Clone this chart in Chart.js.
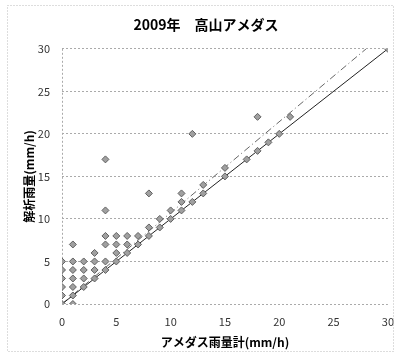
<!DOCTYPE html>
<html>
<head>
<meta charset="utf-8">
<script src="https://cdn.jsdelivr.net/npm/chart.js@4"></script>
<style>
  html, body { margin: 0; padding: 0; background: #fff; }
  #wrap { width: 396px; height: 354px; }
</style>
</head>
<body>
<div id="wrap"><canvas id="chart" width="396" height="354"></canvas></div>
<script>
// アメダス雨量計 (x) と 解析雨量 (y), mm/h
const amedas = [
  0, 0, 0, 0, 0, 0,
  1, 1, 1, 1, 1, 1, 1,
  2, 2, 2, 2,
  3, 3, 3, 3,
  4, 4, 4, 4, 4, 4,
  5, 5, 5, 5,
  6, 6, 6,
  7, 7,
  8, 8, 8,
  9, 9,
  10, 10,
  11, 11, 11,
  12, 12,
  13, 13,
  15, 15,
  17,
  18, 18,
  19, 20, 21, 30
];
const kaiseki = [
  0, 1, 2, 3, 4, 5,
  0, 1, 2, 3, 4, 5, 7,
  2, 3, 4, 5,
  3, 4, 5, 6,
  4, 5, 7, 8, 11, 17,
  5, 6, 7, 8,
  6, 7, 8,
  7, 8,
  8, 9, 13,
  9, 10,
  10, 11,
  11, 12, 13,
  12, 20,
  13, 14,
  15, 16,
  17,
  18, 22,
  19, 20, 22, 30
];

// 1:1 line and the dash-dot line
const lineX = [0, 30];
const lineY = [0, 30];
const dashX = [0, 28];
const dashY = [0, 30];

const xTicks = [0, 5, 10, 15, 20, 25, 30];
const yTicks = [0, 5, 10, 15, 20, 25, 30];

const FONT = "'Noto Sans CJK JP', 'Noto Sans', sans-serif";

function toPoints(xs, ys) {
  return xs.map((x, i) => ({ x: x, y: ys[i] }));
}

// dotted frame around the whole chart (like the Excel chart border)
const frame = {
  id: "frame",
  afterDraw(chart) {
    const ctx = chart.ctx;
    ctx.save();
    ctx.strokeStyle = "#bbb";
    ctx.lineWidth = 1;
    ctx.setLineDash([1, 2]);
    ctx.strokeRect(7.5, 5.5, 386, 346);
    ctx.restore();
  },
};

new Chart(document.getElementById("chart"), {
  type: "scatter",
  data: {
    datasets: [
      {
        label: "obs",
        data: toPoints(amedas, kaiseki),
        pointStyle: "rectRot",
        pointRadius: 3.5,
        backgroundColor: "#a0a0a0",
        borderColor: "#606060",
        borderWidth: 1,
        order: 1,
      },
      {
        label: "1:1",
        type: "line",
        data: toPoints(lineX, lineY),
        borderColor: "#222",
        borderWidth: 1,
        pointRadius: 0,
        order: 2,
      },
      {
        label: "dash",
        type: "line",
        data: toPoints(dashX, dashY),
        borderColor: "#666",
        borderWidth: 1,
        borderDash: [7, 3, 1, 3],
        pointRadius: 0,
        order: 3,
      },
    ],
  },
  options: {
    responsive: false,
    animation: false,
    layout: { padding: { left: 18, right: 2, top: 0, bottom: 2 } },
    plugins: {
      legend: { display: false },
      tooltip: { enabled: false },
      title: {
        display: true,
        text: "2009年　高山アメダス",
        color: "#000",
        font: { family: FONT, size: 14, weight: "bold" },
        padding: { top: 16, bottom: 16 },
      },
    },
    scales: {
      x: {
        type: "linear",
        min: 0,
        max: 30,
        afterBuildTicks: (s) => { s.ticks = xTicks.map((v) => ({ value: v })); },
        afterFit: (s) => { s.height = 48; },
        // only the line at x=0 is drawn (the dotted y axis)
        // invisible tick marks push the labels down without padding the right edge
        grid: {
          drawTicks: true,
          tickLength: 9,
          tickColor: "rgba(0,0,0,0)",
          borderDash: [2, 2],
          color: (c) => (c.tick && c.tick.value === 0 ? "#aaa" : "rgba(0,0,0,0)"),
        },
        border: { display: false, dash: [2, 2] },
        ticks: { color: "#333", padding: 2, font: { family: FONT, size: 11 } },
        title: {
          display: true,
          text: "アメダス雨量計(mm/h)",
          color: "#000",
          font: { family: FONT, size: 12, weight: "bold" },
          padding: { top: 2, bottom: 2 },
        },
      },
      y: {
        type: "linear",
        min: 0,
        max: 30,
        afterBuildTicks: (s) => { s.ticks = yTicks.map((v) => ({ value: v })); },
        afterFit: (s) => { s.width = 44; },
        grid: { color: "#aaa", drawTicks: false, borderDash: [2, 2] },
        border: { display: false, dash: [2, 2] },
        ticks: { color: "#333", padding: 12, font: { family: FONT, size: 11 } },
        title: {
          display: true,
          text: "解析雨量(mm/h)",
          color: "#000",
          font: { family: FONT, size: 12, weight: "bold" },
          padding: { top: 4, bottom: 4 },
        },
      },
    },
  },
  plugins: [frame],
});
</script>
</body>
</html>
